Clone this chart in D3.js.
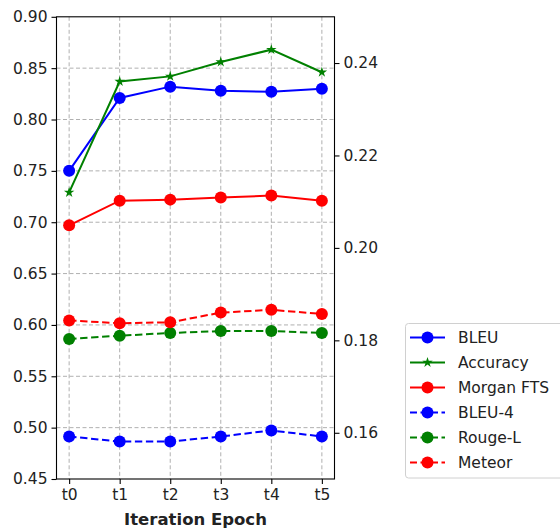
<!DOCTYPE html>
<html><head><meta charset="utf-8">
<script src="https://cdn.jsdelivr.net/npm/d3@7"></script>
<style>body{margin:0;background:#fff;}svg{display:block;font-family:"DejaVu Sans",sans-serif;}</style>
</head><body><svg id="c" width="560" height="529"></svg>
<script>
const categories = ["t0","t1","t2","t3","t4","t5"];
const bleu      = [0.750, 0.821, 0.832, 0.828, 0.827, 0.830];
const accuracy  = [0.729, 0.837, 0.842, 0.856, 0.868, 0.846];
const morganFTS = [0.697, 0.721, 0.722, 0.724, 0.726, 0.721];
const bleu4     = [0.1592, 0.1581, 0.1581, 0.1592, 0.1605, 0.1592];
const rougeL    = [0.1803, 0.1810, 0.1816, 0.1820, 0.1820, 0.1816];
const meteor    = [0.1843, 0.1837, 0.1839, 0.1860, 0.1866, 0.1857];
const leftTicks = [0.45,0.50,0.55,0.60,0.65,0.70,0.75,0.80,0.85,0.90];
const rightTicks = [0.16,0.18,0.20,0.22,0.24];

const series = [
  {name:"BLEU", values:bleu, color:"#0000ff", axis:"L", dash:null, marker:"circle"},
  {name:"Accuracy", values:accuracy, color:"#008000", axis:"L", dash:null, marker:"star"},
  {name:"Morgan FTS", values:morganFTS, color:"#ff0000", axis:"L", dash:null, marker:"circle"},
  {name:"BLEU-4", values:bleu4, color:"#0000ff", axis:"R", dash:"7.4,3.6", marker:"circle"},
  {name:"Rouge-L", values:rougeL, color:"#008000", axis:"R", dash:"7.4,3.6", marker:"circle"},
  {name:"Meteor", values:meteor, color:"#ff0000", axis:"R", dash:"7.4,3.6", marker:"circle"}
];

const svg = d3.select("#c");
const L = 56.5, R = 334.5, T = 16.8, B = 479;
const x = d3.scaleLinear().domain([-0.25, 5.25]).range([L, R]);
const yL = d3.scaleLinear().domain([0.45, 0.90]).range([B, T]);
const yR = d3.scaleLinear().domain([0.15, 0.25]).range([B, T]);
const fs = 15.5, txt = "#222";

// grid
const g = svg.append("g");
g.selectAll(".gx").data(categories).join("line")
  .attr("x1",(d,i)=>x(i)).attr("x2",(d,i)=>x(i)).attr("y1",T).attr("y2",B)
  .attr("stroke","#b0b0b0").attr("stroke-width",1).attr("stroke-dasharray","4,2.5");
g.selectAll(".gy").data(leftTicks.slice(1,-1)).join("line")
  .attr("x1",L).attr("x2",R).attr("y1",d=>yL(d)).attr("y2",d=>yL(d))
  .attr("stroke","#b0b0b0").attr("stroke-width",1).attr("stroke-dasharray","4,2.5");

// axes
const axL = d3.axisLeft(yL).tickValues(leftTicks).tickFormat(d3.format(".2f")).tickSize(5).tickPadding(4);
const axR = d3.axisRight(yR).tickValues(rightTicks).tickFormat(d3.format(".2f")).tickSize(5).tickPadding(4);
const axB = d3.axisBottom(x).tickValues(d3.range(categories.length)).tickFormat(i=>categories[i]).tickSize(5).tickPadding(5);
function style(sel){
  sel.select(".domain").remove();
  sel.selectAll("line").attr("stroke","#000").attr("stroke-width",1.1);
  sel.selectAll("text").attr("font-size",fs).attr("fill",txt).attr("font-family","DejaVu Sans");
}
svg.append("g").attr("transform",`translate(${L},0)`).call(axL).call(style);
svg.append("g").attr("transform",`translate(${R},0)`).call(axR).call(style);
svg.append("g").attr("transform",`translate(0,${B})`).call(axB).call(style);

const star = d3.symbol().type(d3.symbolStar).size(34);

function drawMarker(sel, s, cx, cy){
  if (s.marker === "star") {
    sel.append("path").attr("d", star()).attr("transform",`translate(${cx},${cy})`).attr("fill",s.color);
  } else {
    sel.append("circle").attr("cx",cx).attr("cy",cy).attr("r",6).attr("fill",s.color);
  }
}

// series
series.forEach(s=>{
  const ys = s.axis === "L" ? yL : yR;
  const line = d3.line().x((d,i)=>x(i)).y(d=>ys(d));
  const gg = svg.append("g");
  gg.append("path").datum(s.values).attr("d",line).attr("fill","none")
    .attr("stroke",s.color).attr("stroke-width",2).attr("stroke-dasharray",s.dash);
  s.values.forEach((v,i)=>drawMarker(gg, s, x(i), ys(v)));
});

// frame
svg.append("rect").attr("x",L).attr("y",T).attr("width",R-L).attr("height",B-T)
  .attr("fill","none").attr("stroke","#000").attr("stroke-width",1.1);

// x label
svg.append("text").attr("x",(L+R)/2).attr("y",524.5).attr("text-anchor","middle")
  .attr("font-size",16.5).attr("font-weight","bold").attr("fill",txt).text("Iteration Epoch");

// legend
const lg = svg.append("g");
lg.append("rect").attr("x",405.5).attr("y",323.5).attr("width",180).attr("height",154.5)
  .attr("rx",3).attr("fill","#fff").attr("stroke","#d0d0d0").attr("stroke-width",1);
series.forEach((s,i)=>{
  const cy = 337.5 + i*25;
  lg.append("line").attr("x1",410).attr("x2",445).attr("y1",cy).attr("y2",cy)
    .attr("stroke",s.color).attr("stroke-width",2).attr("stroke-dasharray", s.dash ? "7,3.5" : null);
  drawMarker(lg, s, 427.5, cy);
  lg.append("text").attr("x",458).attr("y",cy).attr("dy","0.36em").attr("font-size",fs)
    .attr("fill",txt).text(s.name);
});
</script></body></html>
